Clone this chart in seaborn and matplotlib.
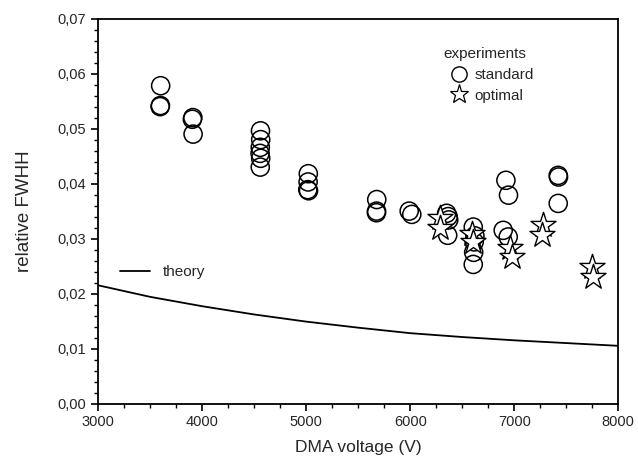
import numpy as np
import pandas as pd
import seaborn as sns
import matplotlib.pyplot as plt
from matplotlib.ticker import MultipleLocator, FuncFormatter
from matplotlib.lines import Line2D

# standard experiments (circles)
std_voltage = [3600, 3595, 3598, 3910, 3905, 3912,
               4560, 4562, 4558, 4556, 4562, 4558,
               5020, 5018, 5015, 5022, 5678, 5676, 5675,
               5990, 6015, 6350, 6365, 6370, 6360,
               6606, 6622, 6615, 6610, 6606, 6894, 6942,
               6920, 6945, 7423, 7426, 7423]
std_fwhh = [0.0578, 0.0540, 0.0542, 0.0520, 0.0517, 0.0490,
            0.0496, 0.0480, 0.0466, 0.0455, 0.0446, 0.0430,
            0.0418, 0.0403, 0.0389, 0.0387, 0.0371, 0.0350, 0.0347,
            0.0350, 0.0344, 0.0346, 0.0340, 0.0334, 0.0306,
            0.0321, 0.0305, 0.0294, 0.0275, 0.0253, 0.0315, 0.0303,
            0.0406, 0.0379, 0.0415, 0.0412, 0.0364]

# optimal experiments (stars)
opt_voltage = [6285, 6285, 6596, 6606, 6959, 6975, 7279, 7263, 7744, 7754]
opt_fwhh = [0.0337, 0.0319, 0.0309, 0.0294, 0.0282, 0.0267, 0.0325, 0.0307, 0.0248, 0.0230]

# theory curve
th_voltage = [3000, 3500, 4000, 4500, 5000, 5500, 6000, 6500, 7000, 7500, 8000]
th_fwhh = [0.0215, 0.0194, 0.0177, 0.0162, 0.0149, 0.0138, 0.0128, 0.0121, 0.0115, 0.0110, 0.0105]

sns.set_style("ticks")
plt.rcParams['font.family'] = ['Liberation Sans', 'DejaVu Sans']

fig = plt.figure(figsize=(6.38, 4.66), dpi=100)
ax = fig.add_axes([0.154, 0.134, 0.815, 0.826])

df_std = pd.DataFrame({"V": std_voltage, "fwhh": std_fwhh})
df_opt = pd.DataFrame({"V": opt_voltage, "fwhh": opt_fwhh})
df_th = pd.DataFrame({"V": th_voltage, "fwhh": th_fwhh})

sns.lineplot(data=df_th, x="V", y="fwhh", color="black", lw=1.3, ax=ax, legend=False)
sns.scatterplot(data=df_std, x="V", y="fwhh", marker="o", s=170, facecolor="none",
                edgecolor="black", linewidth=1.1, ax=ax, legend=False)
sns.scatterplot(data=df_opt, x="V", y="fwhh", marker="*", s=360, color="white",
                edgecolor="black", linewidth=1.0, ax=ax, legend=False, zorder=3)

ax.set_xlim(3000, 8000)
ax.set_ylim(0, 0.07)
ax.xaxis.set_major_locator(MultipleLocator(1000))
ax.xaxis.set_minor_locator(MultipleLocator(250))
ax.yaxis.set_major_locator(MultipleLocator(0.01))
ax.yaxis.set_minor_locator(MultipleLocator(0.002))
ax.yaxis.set_major_formatter(FuncFormatter(lambda v, p: f"{v:.2f}".replace(".", ",")))
ax.tick_params(which="major", length=5, width=1.2, direction="out", labelsize=10.5, color="black")
ax.tick_params(which="minor", length=3, width=1.0, direction="out", color="black")
for s in ax.spines.values():
    s.set_linewidth(1.3)
    s.set_color("black")

ax.set_xlabel("DMA voltage (V)", fontsize=12.5, labelpad=8)
ax.set_ylabel("relative FWHH", fontsize=13.5, labelpad=18)

h_std = Line2D([], [], marker="o", ls="none", ms=11, mfc="none", mec="black", mew=1.0)
h_opt = Line2D([], [], marker="*", ls="none", ms=14, mfc="white", mec="black", mew=0.9)
leg1 = ax.legend([h_std, h_opt], ["standard", "optimal"], title="experiments",
                 loc="upper left", bbox_to_anchor=(0.65, 0.945), frameon=False,
                 fontsize=11, title_fontsize=11, handletextpad=0.0,
                 labelspacing=0.4, borderpad=0)
leg1._legend_box.align = "left"
leg1._legend_box.sep = 5
ax.add_artist(leg1)

h_th = Line2D([], [], color="black", lw=1.3)
ax.legend([h_th], ["theory"], loc="upper left", bbox_to_anchor=(0.015, 0.395),
          frameon=False, fontsize=11, handlelength=2.0, handletextpad=0.8)

fig.savefig("out.png", dpi=100)
